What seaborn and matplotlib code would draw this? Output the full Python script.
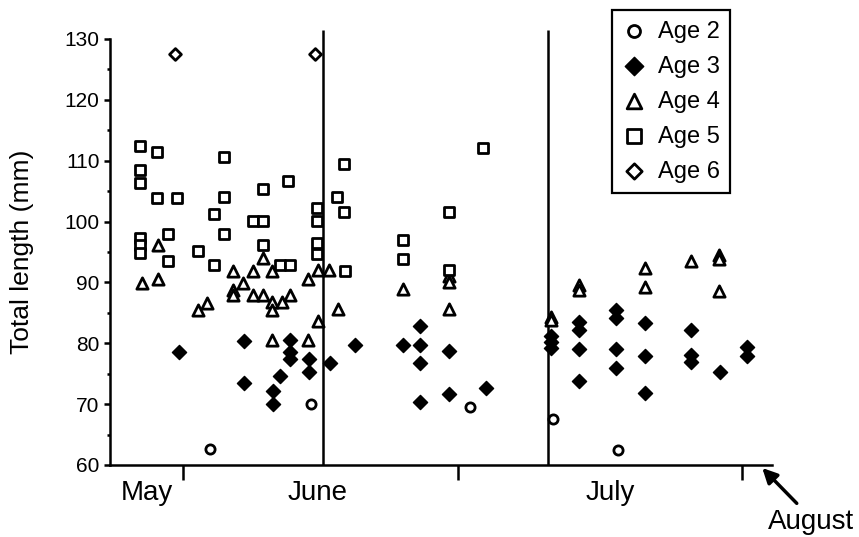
import numpy as np
import pandas as pd
import matplotlib
matplotlib.use("Agg")
import matplotlib.pyplot as plt
import seaborn as sns

# x = days after May 1, y = total length (mm)
age2_day = [15.8, 29.2, 50.4, 61.5, 70.2]
age2_len = [62.7, 70.1, 69.6, 67.6, 62.4]

age3_day = [11.7, 20.3, 20.3, 24.2, 24.2, 25.1, 26.4, 26.4, 26.4, 29.0, 29.0,
            31.8, 35.1, 41.5, 43.8, 43.8, 43.8, 43.8, 47.7, 47.7, 52.6,
            61.2, 61.2, 61.2, 65.0, 65.0, 65.0, 65.0, 69.9, 69.9, 69.9, 69.9,
            73.8, 73.8, 73.8, 79.9, 79.9, 79.9, 83.8, 87.4, 87.4]
age3_len = [78.5, 80.4, 73.4, 72.1, 70.1, 74.6, 80.5, 78.6, 77.5, 77.5, 75.3,
            76.7, 79.7, 79.8, 82.9, 79.8, 76.7, 70.4, 78.7, 71.6, 72.6,
            81.2, 80.2, 79.2, 83.5, 82.2, 79.0, 73.8, 85.5, 84.1, 79.0, 76.0,
            83.4, 77.9, 71.8, 82.2, 78.0, 77.0, 75.2, 79.4, 77.9]

age4_day = [6.7, 8.9, 8.9, 14.2, 15.4, 18.9, 18.9, 18.9, 20.2, 21.5, 21.5,
            22.8, 22.8, 24.1, 24.1, 24.1, 24.1, 25.4, 26.5, 28.9, 28.9,
            30.2, 30.2, 31.6, 32.9, 41.5, 47.7, 47.7, 47.7, 61.2, 61.2,
            65.0, 65.0, 73.8, 73.8, 79.9, 83.7, 83.7, 83.7]
age4_len = [89.9, 96.1, 90.6, 85.5, 86.7, 91.8, 88.8, 88.0, 89.9, 91.8, 88.0,
            94.0, 88.0, 91.8, 86.8, 85.5, 80.5, 86.8, 88.0, 90.6, 80.5,
            92.1, 83.7, 92.1, 85.6, 88.9, 91.0, 90.1, 85.6, 84.4, 83.9,
            89.6, 88.8, 92.3, 89.3, 93.5, 94.5, 93.8, 88.6]

age5_day = [6.5, 6.5, 6.5, 6.5, 6.5, 6.5, 8.8, 8.8, 10.2, 10.2, 11.4, 14.2,
            16.3, 16.3, 17.6, 17.6, 17.6, 21.5, 22.8, 22.8, 22.8, 25.1,
            26.2, 26.5, 30.1, 30.1, 30.1, 30.1, 32.7, 33.6, 33.6, 33.8,
            41.5, 41.5, 47.6, 47.6, 52.2]
age5_len = [112.5, 108.4, 106.3, 97.3, 96.2, 94.8, 111.5, 103.9, 98.0, 93.5,
            103.9, 95.1, 101.3, 92.9, 110.6, 104.0, 98.0, 100.1, 105.3, 100.1,
            96.1, 92.9, 106.6, 92.9, 102.2, 100.1, 96.5, 94.7, 104.1, 109.5,
            101.5, 91.8, 97.0, 93.8, 101.6, 92.0, 112.1]

age6_day = [11.1, 29.8]
age6_len = [127.5, 127.6]

ages = ["Age 2", "Age 3", "Age 4", "Age 5", "Age 6"]
month_names = ["May", "June", "July"]
month_pos = [7.4, 30.1, 69.1]
tick_pos = [12.2, 48.9, 86.7]
month_lines = [30.9, 60.9]

fish = pd.concat([
    pd.DataFrame({"day": age2_day, "length": age2_len, "age": "Age 2"}),
    pd.DataFrame({"day": age3_day, "length": age3_len, "age": "Age 3"}),
    pd.DataFrame({"day": age4_day, "length": age4_len, "age": "Age 4"}),
    pd.DataFrame({"day": age5_day, "length": age5_len, "age": "Age 5"}),
    pd.DataFrame({"day": age6_day, "length": age6_len, "age": "Age 6"}),
])

sns.set_style("ticks")
plt.rcParams["font.family"] = ["Liberation Sans", "DejaVu Sans"]
plt.rcParams["text.color"] = "black"
plt.rcParams["axes.labelcolor"] = "black"
plt.rcParams["xtick.color"] = "black"
plt.rcParams["ytick.color"] = "black"

fig = plt.figure(figsize=(8.59, 5.37), dpi=100)
ax = fig.add_axes([110 / 859, 72 / 537, 662 / 859, 426 / 537])

style = {
    "Age 2": dict(marker="o", s=44, facecolor="white", linewidth=2.0),
    "Age 3": dict(marker="D", s=52, facecolor="black", linewidth=1.0),
    "Age 4": dict(marker="^", s=66, facecolor="white", linewidth=2.0),
    "Age 5": dict(marker="s", s=56, facecolor="white", linewidth=2.0),
    "Age 6": dict(marker="D", s=36, facecolor="white", linewidth=2.0),
}

for a in ages:
    sub = fish[fish["age"] == a]
    sns.scatterplot(data=sub, x="day", y="length", edgecolor="black",
                    label=a, ax=ax, zorder=3, **style[a])

ax.vlines(month_lines, 60, 131.5, colors="black", lw=1.8, clip_on=False)

ax.set_xlim(2.47, 90.7)
ax.set_ylim(60, 130)
ax.set_yticks(range(60, 131, 10))
ax.set_yticks(range(65, 130, 10), minor=True)
ax.set_xticks(tick_pos)
ax.set_xticklabels([])
ax.tick_params(axis="y", which="major", length=4.5, width=1.8, labelsize=15, pad=3)
ax.tick_params(axis="y", which="minor", length=2.5, width=1.8)
ax.tick_params(axis="x", which="major", length=11, width=1.8)
for side in ["top", "right"]:
    ax.spines[side].set_visible(False)
for side in ["left", "bottom"]:
    ax.spines[side].set_linewidth(1.8)
    ax.spines[side].set_color("black")

ax.set_xlabel("")
ax.set_ylabel("Total length (mm)", fontsize=19)
ax.yaxis.set_label_coords(-0.115, 0.5)

tr = ax.get_xaxis_transform()
for name, pos in zip(month_names, month_pos):
    ax.text(pos, -0.066, name, transform=tr, ha="center", va="center", fontsize=20)
ax.text(95.9, -0.134, "August", transform=tr, ha="center", va="center", fontsize=20)
ax.annotate("", xy=(89.4, -0.007), xytext=(94.0, -0.09), xycoords=tr, textcoords=tr,
            arrowprops=dict(arrowstyle="-|>", color="black", lw=2.5,
                            mutation_scale=22, shrinkA=0, shrinkB=0))

leg = ax.legend(loc="upper left", bbox_to_anchor=(0.758, 1.068), fontsize=17,
                frameon=True, fancybox=False, framealpha=1, edgecolor="black",
                labelspacing=0.55, handlelength=1.0, handletextpad=0.5,
                borderpad=0.45, borderaxespad=0, markerscale=1.3)
leg.get_frame().set_linewidth(1.6)

fig.savefig("out.png", dpi=100)
